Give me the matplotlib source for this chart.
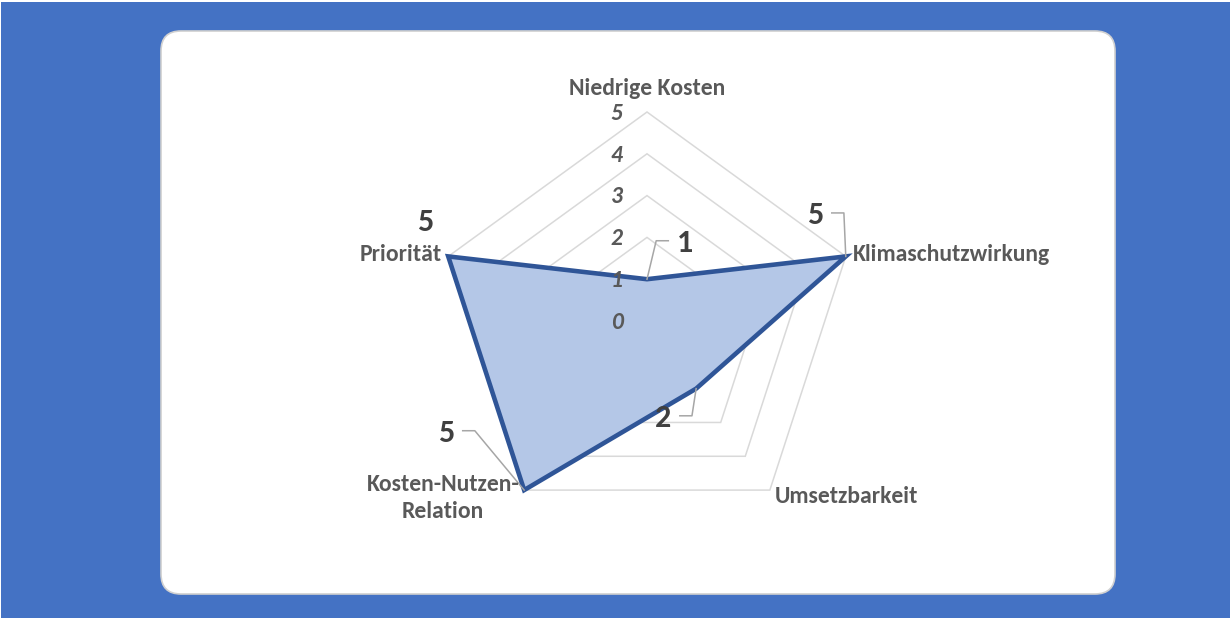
import numpy as np
import matplotlib.pyplot as plt
from matplotlib.patches import FancyBboxPatch, Rectangle, Polygon

categories = ["Niedrige Kosten", "Klimaschutzwirkung", "Umsetzbarkeit",
              "Kosten-Nutzen-\nRelation", "Priorität"]
values = [1, 5, 2, 5, 5]
levels = [0, 1, 2, 3, 4, 5]

plt.rcParams['font.family'] = ['Carlito', 'DejaVu Sans']

W, H = 1232, 619
fig = plt.figure(figsize=(W / 100, H / 100), dpi=100)
fig.patch.set_facecolor('white')

# background and rounded card, in pixel coordinates
bg = fig.add_axes([0, 0, 1, 1])
bg.set_xlim(0, W)
bg.set_ylim(H, 0)
bg.axis('off')
bg.add_patch(Rectangle((1, 2), W - 3, H - 3, facecolor='#4472c4', edgecolor='none'))
bg.add_patch(FancyBboxPatch((161 + 20, 31 + 20), 954 - 40, 563 - 40,
                            boxstyle="round,pad=20", facecolor='white',
                            edgecolor='#d0d0d0', linewidth=1.2))

# radar axes: centre at (647, 321) px, 41.8 px per unit
cx, cy, unit = 647, 321, 41.8
half = 6 * unit
ax = fig.add_axes([(cx - half) / W, (H - cy - half) / H, 2 * half / W, 2 * half / H])
ax.set_xlim(-6, 6)
ax.set_ylim(-6, 6)
ax.axis('off')

n = len(categories)
ang = np.deg2rad(90 - 72 * np.arange(n))
ux, uy = np.cos(ang), np.sin(ang)

# pentagon grid
for lv in levels[1:]:
    pts = np.column_stack([ux * lv, uy * lv])
    ax.add_patch(Polygon(pts, closed=True, fill=False, edgecolor='#d9d9d9', linewidth=1.1))

# axis value labels along the top spoke
for lv in levels:
    ax.text(-0.72, lv - 0.03, str(lv), ha='center', va='center', fontsize=17,
            fontweight='bold', style='italic', color='#595959')

# series
v = np.array(values, dtype=float)
pts = np.column_stack([ux * v, uy * v])
ax.add_patch(Polygon(pts, closed=True, facecolor='#b4c7e7', edgecolor='#2f5597',
                     linewidth=3.3, joinstyle='miter'))

# category labels
cat_pos = [
    (0, 5.56, 'center'),
    (4.93, 1.6, 'left'),
    (3.05, -4.19, 'left'),
    (-4.88, -4.23, 'center'),
    (-4.9, 1.6, 'right'),
]
for name, (x, y, ha) in zip(categories, cat_pos):
    ax.text(x, y, name, ha=ha, va='center', fontsize=17, fontweight='bold',
            color='#595959', linespacing=1.38)

# data labels with leader lines
lab_off = [(0.91, 0.87), (-0.735, 0.99), (-0.79, -0.70), (-1.87, 1.37), (-0.555, 0.82)]
leaders = [True, True, True, True, False]
for i, val in enumerate(values):
    px, py = ux[i] * val, uy[i] * val
    dx, dy = lab_off[i]
    lx, ly = px + dx, py + dy
    ax.text(lx, ly, str(val), ha='center', va='center', fontsize=23,
            fontweight='bold', color='#404040')
    if leaders[i]:
        s = 1 if dx < 0 else -1
        a, b = lx + s * 0.4, lx + s * 0.69
        ax.plot([a, b, px], [ly + 0.05, ly + 0.05, py], color='#a6a6a6', lw=1.1)

fig.savefig('out.png', dpi=100, facecolor=fig.get_facecolor())
